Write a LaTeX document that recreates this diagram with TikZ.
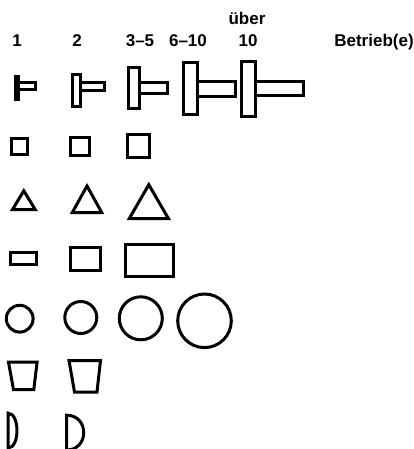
\documentclass[tikz,border=0pt]{standalone}
\usepackage{fontspec}
\setmainfont{Liberation Sans}
\begin{document}
\begin{tikzpicture}[x=1pt,y=-1pt,
  shp/.style={draw=black,line width=3pt,line join=miter},
  lbl/.style={font=\bfseries\fontsize{17}{19}\selectfont,anchor=base,inner sep=0pt}]
\useasboundingbox (0,0) rectangle (413,449);
% header labels
\node[lbl] (ueber) at (247,24.5) {über};
\node[lbl] (h1) at (17,46.5) {1};
\node[lbl] (h2) at (77,46.5) {2};
\node[lbl] (h3) at (140,46.5) {3–5};
\node[lbl] (h4) at (188,46.5) {6–10};
\node[lbl] (h5) at (248,46.5) {10};
\node[lbl] (betr) at (374,46.5) {Betrieb(e)};
% row 1: T shapes
\draw[shp] (15.5,77) rectangle (18,99.5);
\draw[shp] (18,83) rectangle (35.5,89.8);
\draw[shp] (72.2,74.5) rectangle (80.5,107);
\draw[shp] (80.5,83) rectangle (104.8,90.5);
\draw[shp] (128,68) rectangle (139.5,108.8);
\draw[shp] (139.5,82.2) rectangle (167,93.8);
\draw[shp] (183,63) rectangle (197,114.8);
\draw[shp] (197,81.2) rectangle (235.5,96.5);
\draw[shp] (241.2,61.2) rectangle (255.5,117);
\draw[shp] (255.5,81.2) rectangle (303,95.5);
% row 2: squares
\draw[shp] (11.2,138.5) rectangle (27.8,154.5);
\draw[shp] (70.5,137.2) rectangle (89.5,156);
\draw[shp] (127,134.5) rectangle (149.5,157.8);
% row 3: triangles
\draw[shp] (12.5,209.5) -- (35.2,209.5) -- (23.8,190.8) -- cycle;
\draw[shp] (72.2,212.7) -- (101.8,212.7) -- (87,186) -- cycle;
\draw[shp] (129.2,218.7) -- (168.5,218.7) -- (148.8,184.7) -- cycle;
% row 4: rectangles
\draw[shp] (10.2,252.2) rectangle (36.5,264.5);
\draw[shp] (70.2,247) rectangle (100.5,270.5);
\draw[shp] (125.2,244.5) rectangle (173.8,276);
% row 5: circles
\draw[shp] (19.7,318.7) circle[radius=13.4];
\draw[shp] (80.8,317.5) circle[radius=16];
\draw[shp] (140.8,318.3) circle[radius=21.5];
\draw[shp] (204.5,320.8) circle[radius=26.8];
% row 6: buckets
\draw[shp] (8.5,362.2) -- (37.1,362.2) -- (33.8,389.5) -- (13.5,389.5) -- cycle;
\draw[shp] (69,360.5) -- (100.5,360.5) -- (97,392) -- (74.5,392) -- cycle;
% row 7: half discs
\draw[shp] (8,413.2) .. controls (20,413.2) and (20,448) .. (8,448) -- cycle;
\draw[shp] (66.5,415.2) .. controls (89.5,415.2) and (89.5,450) .. (66.5,450) -- cycle;
\end{tikzpicture}
\end{document}
